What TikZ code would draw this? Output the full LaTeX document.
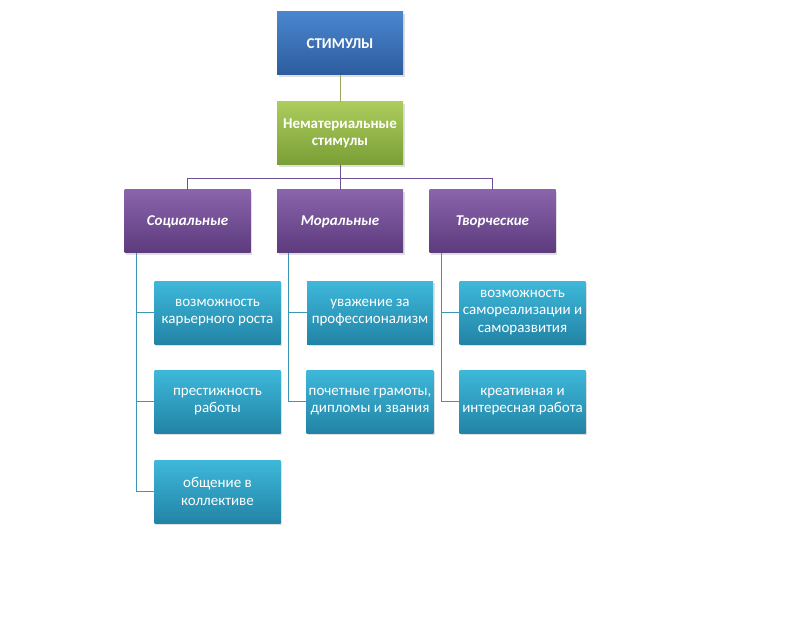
\documentclass[tikz,border=0pt]{standalone}
\usepackage{fontspec}
\setmainfont{Carlito}
\usetikzlibrary{positioning, shadows}
\definecolor{stimtop}{RGB}{74,134,206}
\definecolor{stimbot}{RGB}{44,92,158}
\definecolor{nemtop}{RGB}{172,204,92}
\definecolor{nembot}{RGB}{122,158,54}
\definecolor{cattop}{RGB}{138,100,172}
\definecolor{catbot}{RGB}{92,58,124}
\definecolor{itemtop}{RGB}{62,184,218}
\definecolor{itembot}{RGB}{34,132,166}
\definecolor{olivelink}{RGB}{150,170,90}
\definecolor{catlink}{RGB}{110,80,150}
\definecolor{itemlink}{RGB}{60,150,180}

\begin{document}
\begin{tikzpicture}[x=1pt, y=-1pt, font=\fontsize{15}{17.5}\selectfont,
    box/.style={minimum width=126pt, minimum height=63pt, inner sep=2pt, align=center,
      text=white, drop shadow={shadow xshift=1.5pt, shadow yshift=-2pt, opacity=0.25}},
    stimbox/.style={box, top color=stimtop, bottom color=stimbot, font=\fontsize{15}{17.5}\selectfont\bfseries},
    nembox/.style={box, top color=nemtop, bottom color=nembot, font=\fontsize{15}{17.5}\selectfont\bfseries},
    catbox/.style={box, top color=cattop, bottom color=catbot, font=\fontsize{15}{17.5}\selectfont\bfseries\itshape},
    itembox/.style={box, top color=itemtop, bottom color=itembot},
    lnk/.style={color=itemlink, line width=0.8pt}]
    \useasboundingbox (0,0) rectangle (789,628);
    \node[stimbox] (stim) at (340,43.5) {СТИМУЛЫ};
    \node[nembox] (nemat) at (340,133.5) {Нематериальные\\стимулы};
    \node[catbox] (soc) at (187.5,221.5) {Социальные};
    \node[catbox] (mor) at (340,221.5) {Моральные};
    \node[catbox] (tvor) at (492.5,221.5) {Творческие};
    \node[itembox] (s1) at (217.5,312.5) {возможность\\карьерного роста};
    \node[itembox] (s2) at (217.5,401.5) {престижность\\работы};
    \node[itembox] (s3) at (217.5,491.5) {общение в\\коллективе};
    \node[itembox] (m1) at (370,312.5) {уважение за\\профессионализм};
    \node[itembox] (m2) at (370,401.5) {почетные грамоты,\\дипломы и звания};
    \node[itembox] (t1) at (522.5,312.5) {возможность\\самореализации и\\саморазвития};
    \node[itembox] (t2) at (522.5,401.5) {креативная и\\интересная работа};
    % connectors
    \coordinate (fork) at (340,178);
    \draw[olivelink, line width=0.8pt] (stim) -- (nemat);
    \draw[catlink, line width=0.8pt] (nemat.south) -- (fork) -| (soc.north);
    \draw[catlink, line width=0.8pt] (fork) -| (tvor.north);
    \draw[catlink, line width=0.8pt] (fork) -- (mor.north);
    \draw[lnk] (soc.south west) ++(12,0) |- (s3.west);
    \draw[lnk] (soc.south west) ++(12,0) |- (s1.west);
    \draw[lnk] (soc.south west) ++(12,0) |- (s2.west);
    \draw[lnk] (mor.south west) ++(12,0) |- (m2.west);
    \draw[lnk] (mor.south west) ++(12,0) |- (m1.west);
    \draw[lnk] (tvor.south west) ++(12,0) |- (t2.west);
    \draw[lnk] (tvor.south west) ++(12,0) |- (t1.west);
\end{tikzpicture}
\end{document}
